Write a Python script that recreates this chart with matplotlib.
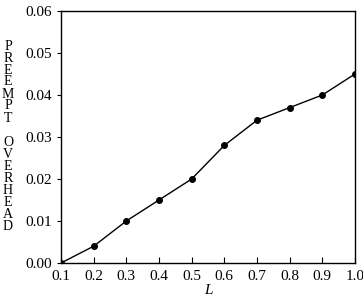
import matplotlib
matplotlib.use('Agg')
import matplotlib.pyplot as plt

# load values
load = [0.1, 0.2, 0.3, 0.4, 0.5, 0.6, 0.7, 0.8, 0.9, 1.0]
overhead = [0.0, 0.004, 0.010, 0.015, 0.020, 0.028, 0.034, 0.037, 0.040, 0.045]
yticks = [0.00, 0.01, 0.02, 0.03, 0.04, 0.05, 0.06]

plt.rcParams['font.family'] = 'Liberation Serif'

fig = plt.figure(figsize=(3.63, 3.08), dpi=100)
ax = fig.add_axes([61 / 363, 45 / 308, 294 / 363, 252 / 308])

ax.plot(load, overhead, color='black', linewidth=1.0, marker='o', markersize=4)

ax.set_xlim(0.1, 1.0)
ax.set_ylim(0.0, 0.06)
ax.set_xticks(load)
ax.set_xticklabels(['%.1f' % v for v in load])
ax.set_yticks(yticks)
ax.set_yticklabels(['%.2f' % v for v in yticks])
ax.tick_params(axis='x', direction='in', length=4, labelsize=11, pad=5)
ax.tick_params(axis='y', direction='out', length=3, labelsize=11)
for s in ax.spines.values():
    s.set_linewidth(1.0)

ax.set_xlabel('L', fontstyle='italic', fontsize=11, labelpad=1)

# vertical stacked y label, one letter per row
label = 'PREEMPT OVERHEAD'
top, step = 46, 12
for i, ch in enumerate(label):
    fig.text(8 / 363, 1 - (top + i * step) / 308, ch, ha='center', va='center',
             fontsize=10)

plt.savefig('out.png', dpi=100)
